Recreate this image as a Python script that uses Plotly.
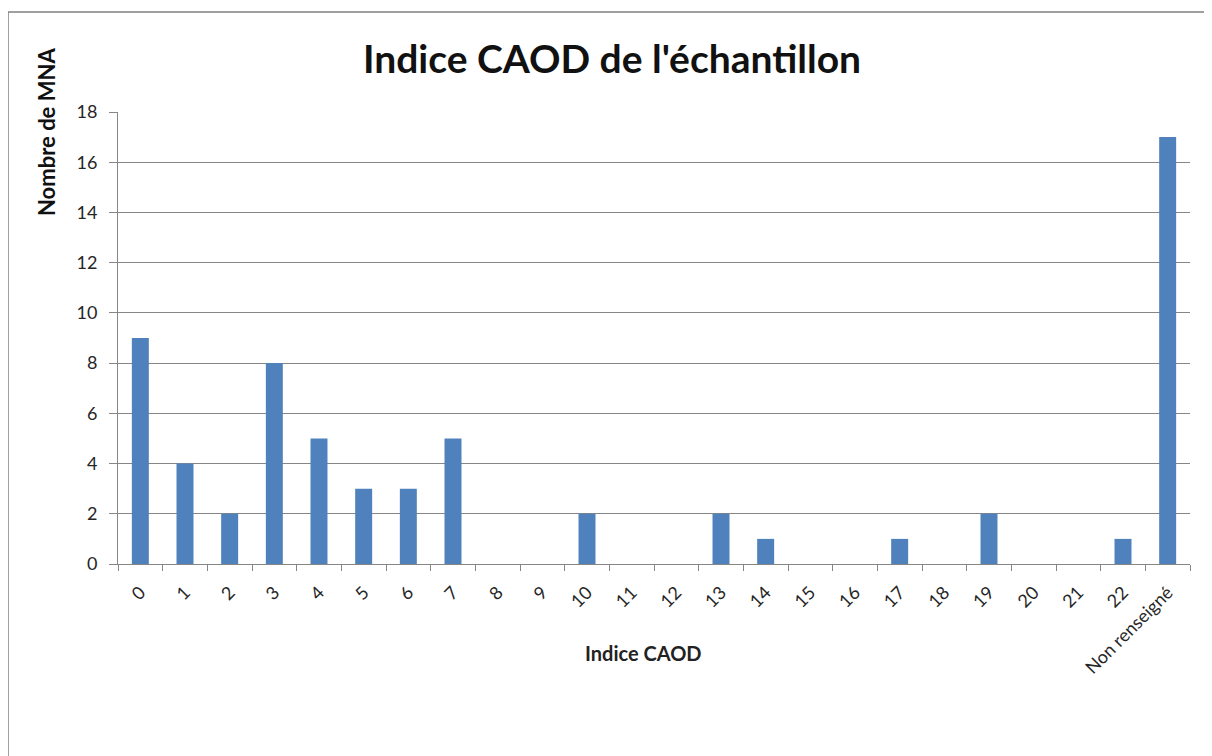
import plotly.graph_objects as go

categories = ["0", "1", "2", "3", "4", "5", "6", "7", "8", "9", "10", "11", "12",
              "13", "14", "15", "16", "17", "18", "19", "20", "21", "22", "Non renseigné"]
values = [9, 4, 2, 8, 5, 3, 3, 5, 0, 0, 2, 0, 0, 2, 1, 0, 0, 1, 0, 2, 0, 0, 1, 17]

# page body has an 8px margin, so figure coordinates = page coordinates - 8
OFF = 8
W, H = 1212 - OFF, 756 - OFF
L, R = 118 - OFF, 1212 - 1190
T, B = 112 - OFF, 756 - 564
pw, ph = W - L - R, H - T - B

def px(x):
    return (x - OFF - L) / pw

def py(y):
    return (H - B - (y - OFF)) / ph

fig = go.Figure(go.Bar(x=categories, y=values, marker=dict(color="#4F81BD", line=dict(width=0))))

fig.update_layout(
    width=W, height=H,
    margin=dict(l=L, r=R, t=T, b=B),
    paper_bgcolor="white", plot_bgcolor="white",
    bargap=0.62,
    showlegend=False,
    font=dict(family="Lato, Open Sans, sans-serif", color="#333333"),
    title=dict(text="<b>Indice CAOD de l'échantillon</b>", x=(612 - OFF) / W, xanchor="center",
               y=1 - (59 - OFF) / H, yanchor="middle",
               font=dict(size=39, color="#111111", family="Lato, Open Sans, sans-serif")),
)
fig.update_xaxes(type="category", tickangle=-45, tickson="boundaries", ticks="outside",
                 ticklen=6, tickcolor="#868686", showline=True, linecolor="#868686",
                 linewidth=1, showgrid=False, ticklabelstandoff=10,
                 tickfont=dict(size=18, color="#262626"))
fig.update_yaxes(range=[0, 18], dtick=2, ticks="outside", ticklen=8, tickcolor="#868686",
                 showline=True, linecolor="#868686", linewidth=1, gridcolor="#868686",
                 gridwidth=1, zeroline=False, ticklabelstandoff=8,
                 tickfont=dict(size=18, color="#262626"))

fig.add_annotation(text="<b>Nombre de MNA</b>", x=px(47), y=py(132), xref="paper", yref="paper",
                   textangle=-90, showarrow=False, font=dict(size=22, color="#111111"),
                   xanchor="center", yanchor="middle")
fig.add_annotation(text="<b>Indice CAOD</b>", x=px(643), y=py(653), xref="paper", yref="paper",
                   showarrow=False, font=dict(size=20, color="#222222"),
                   xanchor="center", yanchor="middle")

bx0, by0 = px(8), py(12)
fig.add_shape(type="line", xref="paper", yref="paper", x0=bx0, y0=by0, x1=px(1230), y1=by0,
              line=dict(color="#808080", width=1.5))
fig.add_shape(type="line", xref="paper", yref="paper", x0=bx0, y0=by0, x1=bx0, y1=py(780),
              line=dict(color="#808080", width=1.5))

fig.write_html("out.html")
